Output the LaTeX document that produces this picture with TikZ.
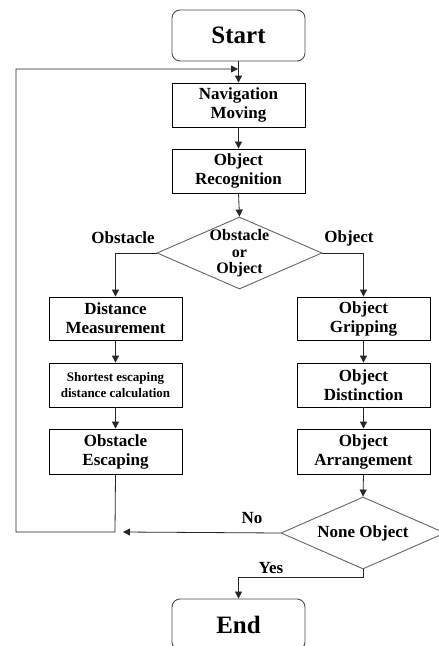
\documentclass[tikz,border=0pt]{standalone}
\usepackage{fontspec}
\setmainfont{Liberation Serif}
\usetikzlibrary{shapes.geometric,arrows.meta}
\begin{document}
\begin{tikzpicture}[x=1pt,y=-1pt,
  every node/.style={font=\bfseries\fontsize{17}{19}\selectfont},
  procbox/.style={draw=black,line width=0.8pt,minimum width=133pt,inner sep=0pt,align=center},
  termbox/.style={draw=black!70,line width=0.9pt,rounded corners=8pt,minimum width=133pt,minimum height=51pt,inner sep=0pt,font=\bfseries\fontsize{25}{28}\selectfont},
  decbox/.style={diamond,draw=black!60,line width=0.9pt,minimum width=165pt,minimum height=72pt,inner sep=0pt},
  lbl/.style={inner sep=0pt},
  conn/.style={draw=black!85,line width=0.8pt},
  arr/.style={conn,-{Triangle[length=7pt,width=7pt]}}]
\useasboundingbox (0,0) rectangle (439,646);
\fill[white] (0,0) rectangle (439,646);
% terminals
\node[termbox] (start) at (238.5,35.5) {Start};
\node[termbox] (end) at (238.5,624.5) {End};
% main column
\node[procbox,minimum height=44pt] (nav) at (238.5,105) {Navigation\\Moving};
\node[procbox,minimum height=44pt] (rec) at (238.5,171) {Object\\Recognition};
\node[decbox] (dec) at (239.5,253) {};
\node[lbl,align=center,font=\bfseries\fontsize{16}{16.5}\selectfont] (dectext) at (239.5,253.5) {Obstacle\\or\\Object};
% left column
\node[procbox,minimum height=43pt] (dist) at (115.5,318.5) {Distance\\Measurement};
\node[procbox,minimum height=44pt,font=\bfseries\fontsize{13}{16}\selectfont] (short) at (115.5,385) {Shortest escaping\\distance calculation};
\node[procbox,minimum height=45pt] (esc) at (115.5,451.5) {Obstacle\\Escaping};
% right column
\node[procbox,minimum height=43pt] (grip) at (363.5,318.5) {Object\\Gripping};
\node[procbox,minimum height=44pt] (disn) at (363.5,385) {Object\\Distinction};
\node[procbox,minimum height=45pt] (arrg) at (363.5,451.5) {Object\\Arrangement};
\node[decbox,minimum width=164pt] (none) at (363,533) {};
\node[lbl] (nonetext) at (363,533) {None Object};
% labels
\node[lbl] (lobst) at (123,238) {Obstacle};
\node[lbl] (lobj) at (349,238) {Object};
\node[lbl] (lno) at (252,518) {No};
\node[lbl] (lyes) at (271,568) {Yes};
% coordinates
\coordinate (loopA) at (115,532);
\coordinate (loopB) at (16,532);
\coordinate (loopEnd) at (238,69);
\coordinate (noEnd) at (123,532);
\coordinate (yesA) at (363,577);
% connectors
\draw[arr] (start.south) -- (nav.north);
\draw[arr] (nav.south) -- (rec.north);
\draw[arr] (rec.south) -- (dec.north);
\draw[arr] (dec.west) -| (dist.north);
\draw[arr] (dec.east) -| (grip.north);
\draw[arr] (dist.south) -- (short.north);
\draw[arr] (short.south) -- (esc.north);
\draw[arr] (grip.south) -- (disn.north);
\draw[arr] (disn.south) -- (arrg.north);
\draw[arr] (arrg.south) -- (none.north);
\draw[arr] (esc.south) -- (loopA) -- (loopB) |- (loopEnd);
\draw[arr] (none.west) -- (noEnd);
\draw[arr] (none.south) -- (yesA) -| (end.north);
\end{tikzpicture}
\end{document}
